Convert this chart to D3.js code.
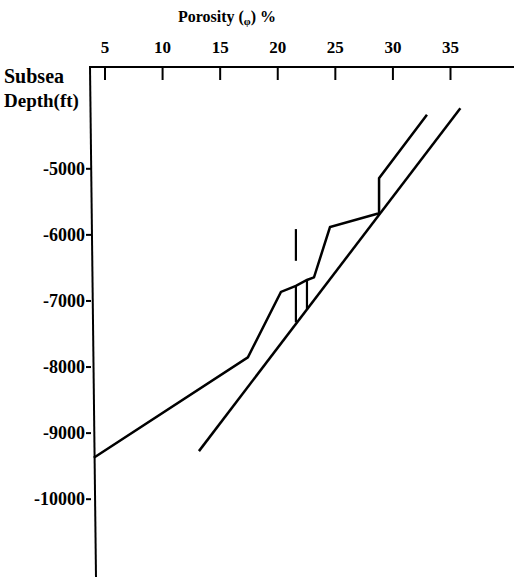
<!DOCTYPE html>
<html>
<head>
<meta charset="utf-8">
<script src="https://cdn.jsdelivr.net/npm/d3@7"></script>
<style>
  html, body { margin: 0; padding: 0; background: #fff; }
  svg text { font-family: "Liberation Serif", "DejaVu Serif", serif; fill: #000; font-weight: bold; }
</style>
</head>
<body>
<svg id="chart" width="514" height="577"></svg>
<script>
// ---- data ----
const porosityTicks = [5, 10, 15, 20, 25, 30, 35];
const depthTicks = [-5000, -6000, -7000, -8000, -9000, -10000];

// straight trend line
const trendPorosity = [13.2, 35.9];
const trendDepth = [-9280, -4090];

// measured profile
const profilePorosity = [4.07, 17.45, 20.32, 21.62, 22.58, 23.19, 24.58, 28.84, 28.84, 33.0];
const profileDepth = [-9380, -7860, -6870, -6780, -6690, -6650, -5890, -5680, -5150, -4190];

// vertical step segments
const stepPorosity = [21.62, 22.58, 21.62];
const stepTop = [-6780, -6690, -5920];
const stepBottom = [-7330, -7130, -6400];

// ---- drawing ----
const svg = d3.select("#chart");
const x = d3.scaleLinear().domain([5, 35]).range([104.5, 450]);
const y = d3.scaleLinear().domain([-5000, -10000]).range([168.3, 498.7]);

const axisTopY = 67, axisLeftX = 90;

// frame lines
svg.append("line").attr("x1", 89).attr("x2", 514).attr("y1", axisTopY).attr("y2", axisTopY)
  .attr("stroke", "#000").attr("stroke-width", 2);
svg.append("line").attr("x1", axisLeftX).attr("x2", axisLeftX + 6).attr("y1", axisTopY).attr("y2", 577)
  .attr("stroke", "#000").attr("stroke-width", 2);

// top axis
const gx = svg.append("g").attr("transform", `translate(0,${axisTopY})`)
  .call(d3.axisTop(x).tickValues(porosityTicks).tickSize(-13).tickPadding(14).tickFormat(d => String(d)));
gx.select(".domain").remove();
gx.selectAll(".tick line").attr("stroke", "#000").attr("stroke-width", 2);
gx.selectAll(".tick text").attr("font-size", 17).attr("fill", "#000");

// left axis
const gy = svg.append("g").attr("transform", `translate(${axisLeftX + 1},0)`)
  .call(d3.axisLeft(y).tickValues(depthTicks).tickSize(5).tickPadding(1).tickFormat(d => String(d)));
gy.select(".domain").remove();
gy.selectAll(".tick line").attr("stroke", "#000").attr("stroke-width", 2);
gy.selectAll(".tick text").attr("font-size", 18).attr("fill", "#000");

// titles
const title = svg.append("text").attr("x", 227).attr("y", 22).attr("text-anchor", "middle").attr("font-size", 16);
title.append("tspan").text("Porosity (");
title.append("tspan").attr("font-size", 11).attr("dy", 3).text("φ");
title.append("tspan").attr("dy", -3).text(") %");

svg.append("text").attr("x", 4).attr("y", 83).attr("font-size", 20).text("Subsea");
svg.append("text").attr("x", 4).attr("y", 107).attr("font-size", 19).text("Depth(ft)");

const line = d3.line().x(d => x(d[0])).y(d => y(d[1]));

svg.append("path")
  .datum(trendPorosity.map((p, i) => [p, trendDepth[i]]))
  .attr("d", line).attr("fill", "none").attr("stroke", "#000").attr("stroke-width", 2.5);

svg.append("path")
  .datum(profilePorosity.map((p, i) => [p, profileDepth[i]]))
  .attr("d", line).attr("fill", "none").attr("stroke", "#000").attr("stroke-width", 2.5)
  .attr("stroke-linejoin", "miter");

svg.selectAll(".step").data(stepPorosity.map((p, i) => ({p, t: stepTop[i], b: stepBottom[i]})))
  .enter().append("line")
  .attr("x1", d => x(d.p)).attr("x2", d => x(d.p))
  .attr("y1", d => y(d.t)).attr("y2", d => y(d.b))
  .attr("stroke", "#000").attr("stroke-width", 2.2);
</script>
</body>
</html>
